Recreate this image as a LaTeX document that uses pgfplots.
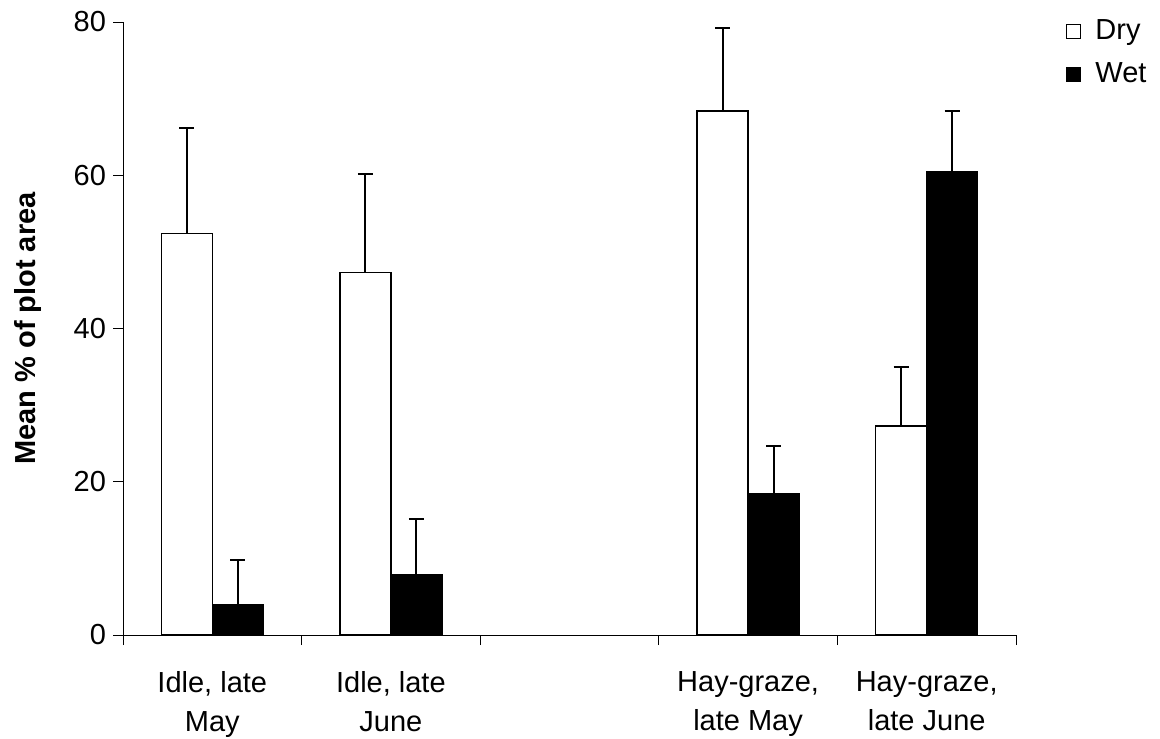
\documentclass[border=0pt]{standalone}
\usepackage{fontspec}
\setmainfont{Liberation Sans}
\usepackage{pgfplots}
\usepackage{pgfplotstable}
\pgfplotsset{compat=1.18}

\pgfplotstableread{
x y e
0 52.4 13.8
1 47.3 12.9
3 68.4 10.8
4 27.3 7.7
}\dry
\pgfplotstableread{
x y e
0 3.9 5.9
1 7.8 7.4
3 18.4 6.3
4 60.5 7.9
}\wet

\begin{document}
\begin{tikzpicture}
\useasboundingbox (-61.5pt,-51.5pt) rectangle (518.5pt,317.5pt);
\begin{axis}[
  at={(0,0)}, anchor=south west,
  scale only axis,
  width=446.5pt, height=306.5pt,
  xmin=-0.5, xmax=4.5, ymin=0, ymax=80,
  axis lines=left,
  axis line style={-, line width=0.5pt, black},
  tick align=outside,
  major tick length=5pt,
  tick style={line width=0.5pt, black},
  ytick={0,20,40,60,80},
  xtick={-0.5,0.5,1.5,2.5,3.5,4.5},
  xticklabels={},
  extra x ticks={0,1,3,4},
  extra x tick labels={{Idle, late\\May},{Idle, late\\June},{Hay-graze,\\late May},{Hay-graze,\\late June}},
  extra x tick style={major tick length=0pt, xticklabel style={align=center, yshift=-14.5pt, font=\fontsize{14.5}{19.5}\selectfont}},
  /pgf/number format/assume math mode=true,
  yticklabel style={font=\fontsize{14.5}{17}\selectfont},
  ylabel={Mean \% of plot area},
  ylabel style={font=\bfseries\fontsize{14.5}{17}\selectfont, at={(axis description cs:-0.1064,0.5)}, anchor=center},
  ybar,
  bar width=0.2856,
  legend style={at={(axis description cs:1.0558,1.0104)}, anchor=north west, draw=none, fill=none,
     font=\fontsize{14.5}{17}\selectfont, row sep=6pt, inner sep=0pt,
     /tikz/every odd column/.append style={column sep=5pt}},
  legend cell align=left,
  legend image code/.code={\draw[#1, line width=0.6pt] (0pt,-3.5pt) rectangle (7pt,3.5pt);},
]
\addplot[bar shift=-0.1428, fill=white, draw=black, line width=0.75pt,
  error bars/.cd, y dir=plus, y explicit,
  error bar style={line width=1pt, black},
  error mark options={line width=1pt, black, mark size=3.75pt, rotate=90}]
  table[x=x, y=y, y error=e] {\dry};
\addplot[bar shift=0.1428, fill=black, draw=black, line width=0.75pt,
  error bars/.cd, y dir=plus, y explicit,
  error bar style={line width=1pt, black},
  error mark options={line width=1pt, black, mark size=3.75pt, rotate=90}]
  table[x=x, y=y, y error=e] {\wet};
\legend{Dry, Wet}
\end{axis}
\end{tikzpicture}
\end{document}
